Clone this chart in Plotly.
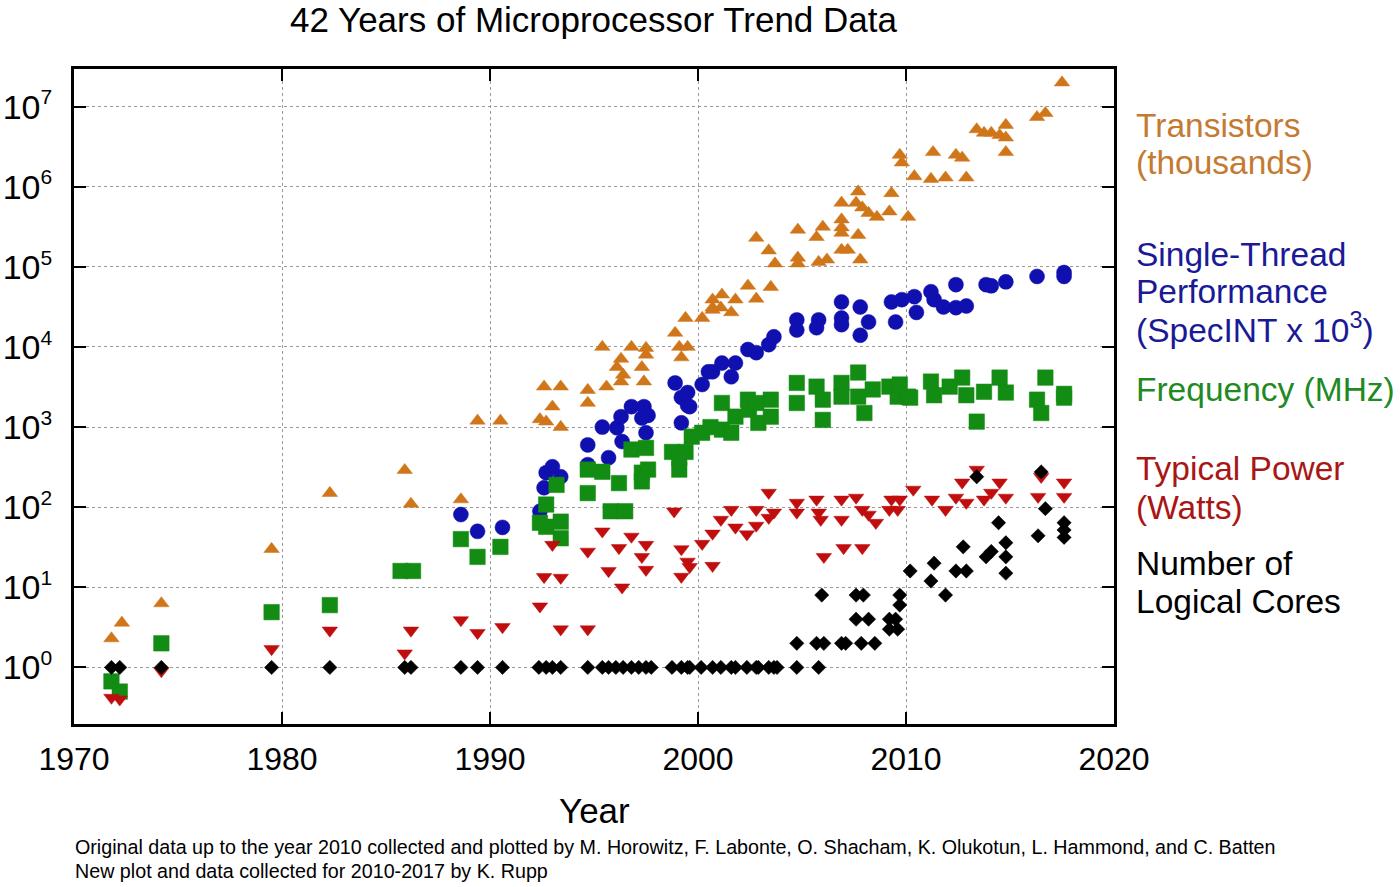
import plotly.graph_objects as go

# ---------------- data ----------------
tr_year = [1971.8, 1972.3, 1974.2, 1979.5, 1982.3, 1985.9, 1986.2, 1988.6, 1989.4, 1990.5,
           1992.4, 1992.7, 1993.0, 1992.6, 1993.4, 1993.4, 1994.7, 1994.7, 1995.6, 1995.4,
           1996.1, 1996.3, 1996.4, 1996.3, 1996.8, 1997.3, 1997.4, 1997.5, 1997.5, 1998.9,
           1999.1, 1999.5, 1999.2, 1999.4, 2000.2, 2000.7, 2000.7, 2001.15, 2001.1, 2000.7,
           2001.8, 2001.6, 2002.4, 2002.8, 2003.5, 2002.8, 2003.4, 2003.7, 2004.8, 2004.8,
           2004.8, 2006.0, 2005.7, 2005.8, 2006.2, 2006.9, 2006.9, 2006.9, 2006.9, 2006.9,
           2007.2, 2007.7, 2007.6, 2007.7, 2007.9, 2008.2, 2008.6, 2007.8, 2009.3, 2009.2,
           2010.1, 2009.7, 2009.8, 2010.4, 2011.3, 2011.2, 2011.9, 2012.4, 2012.7, 2012.9,
           2013.4, 2013.75, 2014.1, 2014.5, 2014.8, 2014.8, 2014.8, 2016.3, 2016.7, 2017.5]
tr_val = [2.3, 3.6, 6.3, 30, 150, 290, 110, 125, 1200, 1200,
          1250, 1170, 1800, 3200, 3200, 1000, 2900, 2000, 3200, 10000,
          5600, 7100, 4500, 3700, 10000, 5600, 3700, 9700, 8000, 15000,
          10000, 10000, 7400, 23000, 23000, 39000, 29000, 45000, 31000, 31000,
          39000, 27000, 58000, 40000, 56000, 230000, 160000, 110000, 290000, 130000,
          110000, 316000, 235000, 115000, 123000, 390000, 630000, 310000, 265000, 163000,
          163000, 870000, 630000, 250000, 550000, 470000, 420000, 123000, 830000, 490000,
          420000, 2.5e6, 2.0e6, 1.35e6, 2.7e6, 1.25e6, 1.3e6, 2.5e6, 2.3e6, 1.3e6,
          5.2e6, 4.7e6, 4.7e6, 4.4e6, 5.9e6, 4.1e6, 2.7e6, 7.4e6, 8.3e6, 2.0e7]

perf_year = [1988.6, 1989.4, 1990.6, 1992.4, 1992.6, 1992.7, 1993.0, 1993.4, 1994.7, 1994.7,
             1995.7, 1995.4, 1996.1, 1996.3, 1996.8, 1996.35, 1997.4, 1997.6, 1997.3, 1997.5,
             1998.9, 1999.2, 1999.5, 1999.5, 1999.2, 2000.2, 2000.5, 1999.6, 2000.7, 2001.15,
             2001.8, 2001.6, 2002.4, 2002.8, 2003.4, 2003.65, 2004.75, 2004.75, 2005.8, 2005.7,
             2006.9, 2007.8, 2006.9, 2006.9, 2008.2, 2007.8, 2009.3, 2009.5, 2009.8, 2010.4,
             2010.5, 2011.2, 2011.35, 2011.8, 2012.4, 2012.9, 2012.4, 2013.85, 2014.1, 2014.8,
             2016.3, 2017.6, 2017.6]
perf_val = [81, 50, 56, 89, 175, 270, 320, 240, 600, 340,
            415, 1000, 980, 1350, 1800, 660, 1800, 1400, 1300, 850,
            3560, 2350, 2700, 1860, 1130, 3400, 4900, 1800, 4900, 6300,
            6300, 4250, 9300, 8500, 10700, 13400, 21800, 16300, 21800, 17400,
            36500, 31600, 23000, 19000, 20500, 14000, 36500, 20500, 39000, 42500,
            27000, 49000, 39000, 31600, 31000, 32500, 60000, 60000, 58000, 65000,
            76000, 85000, 76000]

freq_year = [1971.8, 1972.2, 1974.2, 1979.5, 1982.3, 1985.7, 1986.3, 1988.6, 1989.4, 1990.5,
             1992.7, 1992.4, 1992.7, 1993.4, 1993.4, 1993.2, 1994.7, 1994.7, 1995.4, 1996.2,
             1995.8, 1996.5, 1996.8, 1997.5, 1997.3, 1997.6, 1997.3, 1998.75, 1999.4, 1999.1,
             1999.1, 1999.7, 2000.2, 2000.6, 2001.15, 2001.15, 2001.6, 2001.8, 2002.4, 2002.45,
             2002.8, 2002.9, 2003.5, 2003.5, 2004.75, 2004.75, 2005.7, 2006.0, 2006.0, 2006.9,
             2006.9, 2007.7, 2007.7, 2008.0, 2008.4, 2009.2, 2009.6, 2010.1, 2009.7, 2010.2,
             2011.2, 2011.35, 2012.1, 2012.7, 2012.9, 2013.4, 2013.75, 2014.5, 2014.8, 2016.7,
             2016.3, 2016.5, 2017.6, 2017.6]
freq_val = [0.67, 0.5, 2, 4.9, 6, 16, 16, 40, 24, 32,
            108, 64, 57, 66, 41, 190, 295, 150, 277, 200,
            89, 89, 525, 550, 270, 295, 210, 490, 490, 295,
            415, 760, 850, 1000, 2000, 930, 850, 1350, 2200, 1650,
            2000, 1130, 2200, 1350, 3560, 2000, 3200, 2200, 1230, 3560,
            2400, 4800, 2400, 1500, 2950, 3200, 2400, 2400, 3400, 2330,
            3700, 2500, 3200, 4150, 2500, 1170, 2760, 4150, 2700, 4150,
            2200, 1500, 2330, 2600]

pow_year = [1971.8, 1972.2, 1974.2, 1979.5, 1982.3, 1985.9, 1986.2, 1988.6, 1989.4, 1990.6,
            1992.4, 1993.4, 1994.7, 1992.6, 1993.4, 1993.0, 1994.7, 1995.4, 1995.7, 1996.2,
            1996.35, 1996.8, 1997.5, 1997.3, 1997.5, 1998.85, 1999.2, 1999.5, 1999.2, 1999.6,
            2000.7, 2000.2, 2000.7, 2001.1, 2001.6, 2001.8, 2002.35, 2002.8, 2002.8, 2003.4,
            2003.4, 2003.65, 2004.75, 2004.75, 2005.7, 2005.9, 2006.05, 2005.8, 2006.9, 2006.9,
            2007.0, 2007.9, 2007.6, 2007.9, 2008.2, 2008.55, 2009.2, 2009.3, 2009.7, 2009.6,
            2010.35, 2011.25, 2011.9, 2012.4, 2012.7, 2012.9, 2013.4, 2013.75, 2014.1, 2014.5,
            2014.8, 2016.5, 2016.35, 2017.6, 2017.6]
pow_val = [0.42, 0.4, 0.9, 1.7, 2.9, 1.5, 2.9, 3.9, 2.7, 3.2,
           5.8, 3.0, 3.0, 13.5, 13.2, 34, 28, 50, 16, 31,
           10, 43, 34, 24, 16.6, 89, 30, 21, 13.6, 18,
           18.6, 35, 47, 70, 93, 56, 46, 93, 59, 152,
           74, 86, 114, 86, 125, 70, 24, 86, 125, 70,
           31, 31, 132, 93, 81, 64, 93, 125, 125, 93,
           166, 125, 93, 132, 204, 114, 295, 125, 152, 204,
           132, 240, 135, 204, 135]

core_year = [1971.8, 1972.2, 1974.2, 1979.5, 1982.3, 1985.9, 1986.2, 1988.6, 1989.4, 1990.6,
             1992.35, 1992.7, 1993.0, 1993.4, 1994.7, 1995.4, 1995.7, 1996.05, 1996.4, 1996.8,
             1997.15, 1997.5, 1997.75, 1998.75, 1999.2, 1999.5, 1999.6, 2000.15, 2000.7, 2001.1,
             2001.6, 2001.8, 2002.35, 2002.8, 2002.9, 2003.4, 2003.65, 2003.8, 2004.75, 2005.8,
             2004.75, 2005.7, 2006.05, 2006.9, 2007.1, 2007.85, 2008.5,
             2005.95, 2007.6, 2007.95, 2007.6, 2008.2, 2009.2, 2009.2, 2009.6, 2009.5, 2009.7,
             2009.7, 2010.2, 2011.35, 2011.2, 2011.9, 2012.4, 2012.9, 2012.75, 2013.4, 2013.85,
             2014.1, 2014.45, 2014.8, 2014.8, 2014.8, 2016.5, 2016.7, 2016.35, 2017.6, 2017.6,
             2017.6]
core_val = [1, 1, 1, 1, 1, 1, 1, 1, 1, 1,
            1, 1, 1, 1, 1, 1, 1, 1, 1, 1,
            1, 1, 1, 1, 1, 1, 1, 1, 1, 1,
            1, 1, 1, 1, 1, 1, 1, 1, 1, 1,
            2, 2, 2, 2, 2, 2, 2,
            8, 8, 8, 4, 4, 4, 3, 3, 4, 8,
            6, 16, 20, 12, 8, 16, 16, 32, 240, 24,
            28, 64, 36, 24, 15, 276, 96, 44, 64, 52,
            42]

y_tickvals = [1, 10, 100, 1e3, 1e4, 1e5, 1e6, 1e7]
y_ticktext = ['10<sup><span style="font-size:21px">%d</span></sup>' % i for i in range(8)]
x_tickvals = [1970, 1980, 1990, 2000, 2010, 2020]

series_labels = [
    ("Transistors", "#c47a30", 126),
    ("(thousands)", "#c47a30", 163),
    ("Single-Thread", "#1a1a96", 254),
    ("Performance", "#1a1a96", 291),
    ("(SpecINT x 10<sup>3</sup>)", "#1a1a96", 328),
    ("Frequency (MHz)", "#1f8a1f", 389),
    ("Typical Power", "#a81616", 468),
    ("(Watts)", "#a81616", 507),
    ("Number of", "#000000", 563),
    ("Logical Cores", "#000000", 601),
]

footnotes = [
    "Original data up to the year 2010 collected and plotted by M. Horowitz, F. Labonte, O. Shacham, K. Olukotun, L. Hammond, and C. Batten",
    "New plot and data collected for 2010-2017 by K. Rupp",
]

# ---------------- figure ----------------
FONT = "Liberation Sans, Arial, sans-serif"
fig = go.Figure()

def add(xs, ys, symbol, color, size):
    fig.add_trace(go.Scatter(x=xs, y=ys, mode="markers",
                             marker=dict(symbol=symbol, color=color, size=size,
                                         line=dict(width=0.5, color=color)),
                             showlegend=False, hoverinfo="x+y"))

add(tr_year, tr_val, "triangle-up", "#d0761a", 13.5)
add(perf_year, perf_val, "circle", "#1010b0", 15)
add(freq_year, freq_val, "square", "#128c12", 15.5)
add(pow_year, pow_val, "triangle-down", "#c00e0e", 13.5)
add(core_year, core_val, "diamond", "#000000", 11)

W, H = 1400, 887
PL, PR, PT, PB = 74, 1114, 69, 724       # plot area in screen px
pw, ph = PR - PL, PB - PT

def px2paper_x(px):
    return (px - PL) / pw

def px2paper_y(py):
    return (PB - py) / ph

annotations = []
for text, color, py in series_labels:
    annotations.append(dict(text=text, xref="paper", yref="paper",
                            x=px2paper_x(1134), y=px2paper_y(py),
                            xanchor="left", yanchor="middle", showarrow=False,
                            font=dict(family=FONT, size=33.5, color=color)))
annotations.append(dict(text="Year", xref="paper", yref="paper",
                        x=0.5, y=px2paper_y(810), xanchor="center", yanchor="middle",
                        showarrow=False, font=dict(family=FONT, size=35, color="black")))
for i, t in enumerate(footnotes):
    annotations.append(dict(text=t, xref="paper", yref="paper",
                            x=px2paper_x(73), y=px2paper_y(847 + 24 * i),
                            xanchor="left", yanchor="middle", showarrow=False,
                            font=dict(family=FONT, size=19.7, color="black")))
annotations.append(dict(text="42 Years of Microprocessor Trend Data", xref="paper", yref="paper",
                        x=0.5, y=px2paper_y(19), xanchor="center", yanchor="middle",
                        showarrow=False, font=dict(family=FONT, size=35, color="black")))

fig.update_layout(
    width=W, height=H,
    margin=dict(l=PL, r=W - PR, t=PT, b=H - PB, autoexpand=False),
    paper_bgcolor="white", plot_bgcolor="white",
    font=dict(family=FONT, color="black"),
    annotations=annotations,
    hovermode=False,
)
fig.update_xaxes(range=[1970, 2020], tickvals=x_tickvals, ticks="inside", ticklen=12, tickwidth=2,
                 tickcolor="black", showline=True, linewidth=3, linecolor="black", mirror="ticks",
                 showgrid=True, gridcolor="#9a9a9a", griddash="dot", gridwidth=1,
                 tickfont=dict(size=32, family=FONT), ticklabelstandoff=5, zeroline=False)
fig.update_yaxes(type="log", range=[-0.706, 7.47], tickvals=y_tickvals, ticktext=y_ticktext,
                 ticks="inside", ticklen=12, tickwidth=2, tickcolor="black",
                 showline=True, linewidth=3, linecolor="black", mirror="ticks",
                 showgrid=True, gridcolor="#9a9a9a", griddash="dot", gridwidth=1,
                 tickfont=dict(size=34, family=FONT), ticklabelstandoff=12, zeroline=False)

fig.write_html("out.html", config={"displayModeBar": False},
               post_script="document.body.style.margin='0px';")
